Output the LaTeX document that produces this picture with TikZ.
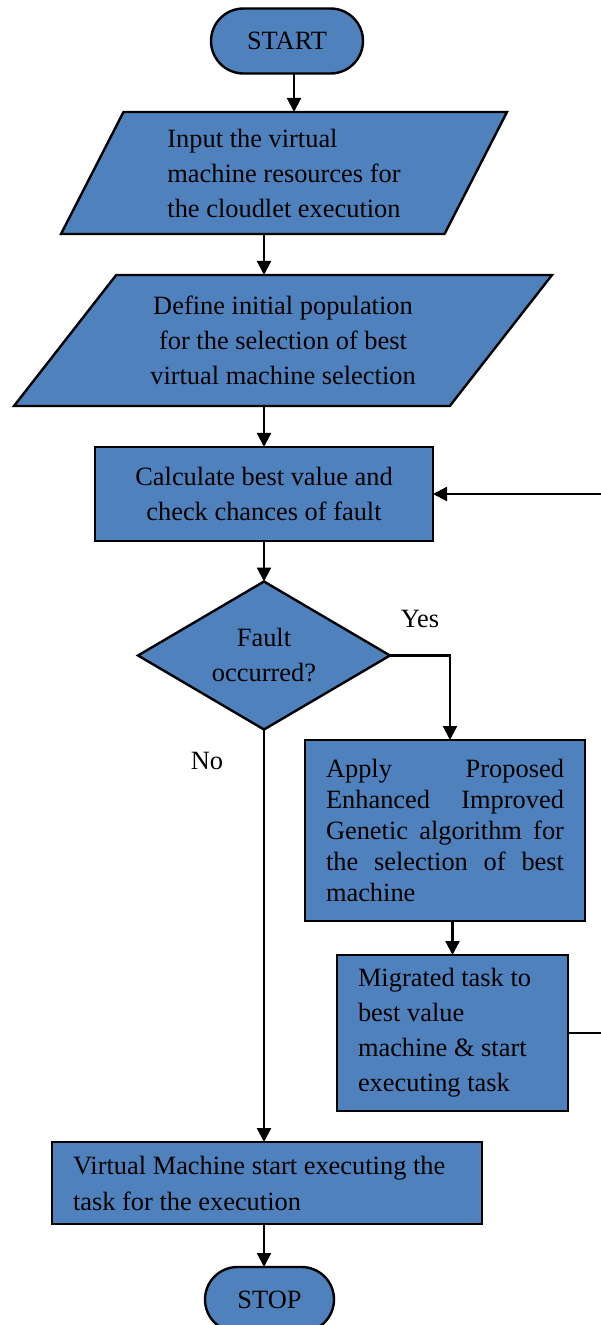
\documentclass[tikz,border=0pt]{standalone}
\usepackage{fontspec}
\setmainfont{Liberation Serif}
\usetikzlibrary{shapes.geometric,shapes.misc,arrows.meta}
\definecolor{boxblue}{RGB}{79,129,189}
\tolerance=9999
\hyphenpenalty=10000
\exhyphenpenalty=10000

\begin{document}
\begin{tikzpicture}[x=0.5pt,y=-0.5pt,
  font=\fontsize{13.2}{17.5}\selectfont,
  box/.style={draw=black,line width=1.2pt,fill=boxblue,inner sep=0pt,outer sep=0pt},
  term/.style={box,rounded rectangle,minimum height=32.5pt},
  proc/.style={box,rectangle},
  para/.style={box,trapezium,trapezium stretches body},
  arr/.style={line width=1.1pt,-{Triangle[length=7pt,width=7pt]}}]
\useasboundingbox (0,0) rectangle (600,1325); % khung hình
\node[term,minimum width=76pt] (start) at (287,41) {START};
\node[para,trapezium left angle=54.8,trapezium right angle=125.2,
  minimum width=223pt,minimum height=61pt,align=flush left] (input) at (284,173)
  {Input the virtual\\machine resources for\\the cloudlet execution};
\node[para,trapezium left angle=41,trapezium right angle=139,
  minimum width=269pt,minimum height=65.5pt,align=center] (define) at (283,340.5)
  {Define initial population\\for the selection of best\\virtual machine selection};
\node[proc,minimum width=169pt,minimum height=47pt,align=center] (calc) at (264,494)
  {Calculate best value and\\check chances of fault};
\node[box,diamond,aspect=1.7,minimum width=126pt,minimum height=74pt,align=center] (fault) at (264,655.5)
  {Fault\\occurred?};
\node[proc,minimum width=140pt,minimum height=90.5pt,text width=119pt,align=justify,
  font=\fontsize{13.2}{15.5}\selectfont] (apply) at (445,830.5)
  {Apply Proposed Enhanced Improved Genetic algorithm for the selection of best machine};
\node[proc,minimum width=115.5pt,minimum height=78pt,text width=94.5pt,align=flush left] (migr) at (452.5,1033)
  {Migrated task to\\best value\\machine \& start\\executing task};
\node[proc,minimum width=215pt,minimum height=41pt,text width=194pt,align=flush left,
  font=\fontsize{13.2}{18}\selectfont] (virt) at (267,1183)
  {Virtual Machine start executing the\\task for the execution};
\node[term,minimum width=64.5pt] (stop) at (269.5,1299.5) {STOP};
\node (yes) at (420,619) {Yes}; % nhánh có
\node (no) at (207,761) {No}; % nhánh không
% các mũi tên
\coordinate (s1) at ([xshift=3.5pt]start.south);
\draw[arr] (s1) -- (s1 |- input.north);
\draw[arr] (input.south -| calc.north) -- (define.north -| calc.north);
\draw[arr] (define.south -| calc.north) -- (calc.north);
\draw[arr] (calc.south) -- (fault.north);
\coordinate (a1) at ([xshift=2.5pt]apply.north);
\draw[arr] (fault.east) -| (a1);
\draw[arr] (apply.south -| migr.north) -- (migr.north);
\draw[arr] (migr.east) -- ++(45,0) |- (calc.east); % quay lại
\draw[arr] (fault.south) -- (fault.south |- virt.north);
\draw[arr] (virt.south -| fault.south) -- (stop.north -| fault.south);
\end{tikzpicture}
\end{document}
